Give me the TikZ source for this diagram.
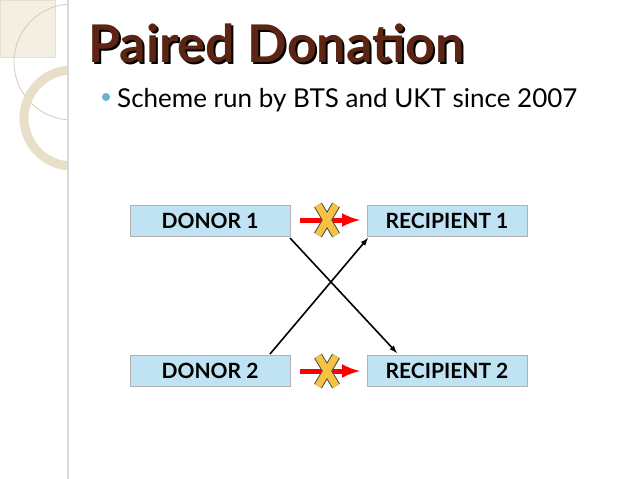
\documentclass[tikz,border=0pt]{standalone}
\usepackage{fontspec}
\setmainfont{Lato}
\begin{document}
\begin{tikzpicture}[x=1pt,y=-1pt,
 box/.style={draw=gray!60,fill=boxc,minimum width=160pt,minimum height=31pt,inner sep=0pt,font=\bfseries\fontsize{21}{24}\selectfont},
 cross/.style={->,>=latex,line width=1.6pt}]
\definecolor{boxc}{HTML}{BFE3F2}
\definecolor{brown}{HTML}{5C2412}
\definecolor{beige}{HTML}{E8DFC8}
\definecolor{xyel}{HTML}{F5C242}
\useasboundingbox (0,0) rectangle (638,479);
\fill[white] (0,0) rectangle (638,479);
\begin{scope}
\clip (0,0) rectangle (68,479);
\fill[beige!50] (0,0) rectangle (55,57);
\draw[beige,line width=0.8pt] (0,0) rectangle (55,57);
\draw[beige!80!gray,line width=0.8pt] (72,62) circle (58);
\draw[beige,line width=9pt] (72,118) circle (48);
\end{scope}
\draw[gray!30,line width=1.5pt] (68,0) -- (68,479);
\node[anchor=base west,font=\bfseries\fontsize{52}{56}\selectfont,text=black,inner sep=0pt] at (90,64) {Paired Donation};
\node[anchor=base west,font=\bfseries\fontsize{52}{56}\selectfont,text=brown,inner sep=0pt] (title) at (88,62) {Paired Donation};
\fill[cyan!50!teal!70] (106,97) circle (4);
\node[anchor=base west,font=\fontsize{26}{30}\selectfont,inner sep=0pt] (sub) at (117,107) {Scheme run by BTS and UKT since 2007};
\node[box] (d1) at (210,220.5) {DONOR 1};
\node[box] (r1) at (447,220.5) {RECIPIENT 1};
\node[box] (d2) at (210,371) {DONOR 2};
\node[box] (r2) at (447,371) {RECIPIENT 2};
\draw[cross] (290,238) -- (397,353);
\draw[cross] (270,354) -- (368,238);
\foreach \a/\b/\y in {d1/r1/220, d2/r2/371}{
 \draw[draw=red,line width=5pt,-{latex}] (300,\y) -- (360,\y);
 \draw[black!70,line width=9pt] (318,\y-15) -- (336,\y+15) (336,\y-15) -- (318,\y+15);
 \draw[xyel,line width=7pt] (318,\y-15) -- (336,\y+15) (336,\y-15) -- (318,\y+15);
}
\end{tikzpicture}
\end{document}
